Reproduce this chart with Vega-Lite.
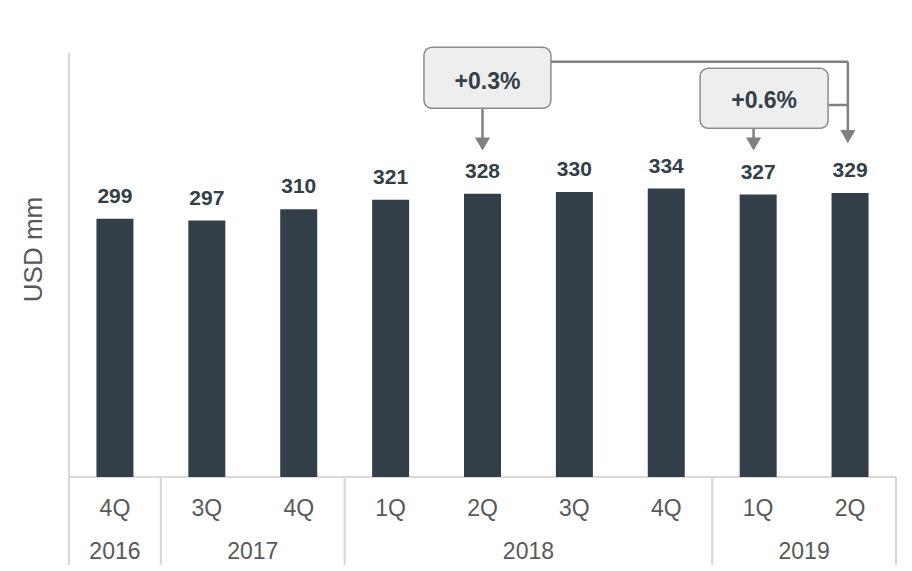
{
  "$schema": "https://vega.github.io/schema/vega-lite/v6.json",
  "autosize": "none",
  "width": 837,
  "height": 424,
  "padding": {"left": 64, "top": 53, "right": 11, "bottom": 94},
  "background": "white",
  "config": {"view": {"stroke": null}, "font": "Liberation Sans"},
  "datasets": {
    "bars": [
      {"x": 0, "q": "4Q", "y": 299},
      {"x": 1, "q": "3Q", "y": 297},
      {"x": 2, "q": "4Q", "y": 310},
      {"x": 3, "q": "1Q", "y": 321},
      {"x": 4, "q": "2Q", "y": 328},
      {"x": 5, "q": "3Q", "y": 330},
      {"x": 6, "q": "4Q", "y": 334},
      {"x": 7, "q": "1Q", "y": 327},
      {"x": 8, "q": "2Q", "y": 329}
    ],
    "years": [
      {"x": 0, "label": "2016"},
      {"x": 1.5, "label": "2017"},
      {"x": 4.5, "label": "2018"},
      {"x": 7.5, "label": "2019"}
    ],
    "grid": [
      {"x": -0.5, "x2": -0.5, "y": 491, "y2": -102},
      {"x": 0.5, "x2": 0.5, "y": 0, "y2": -102},
      {"x": 2.5, "x2": 2.5, "y": 0, "y2": -102},
      {"x": 6.5, "x2": 6.5, "y": 0, "y2": -102},
      {"x": 8.5, "x2": 8.5, "y": 0, "y2": -102},
      {"x": -0.5, "x2": 8.5, "y": 0, "y2": 0}
    ],
    "boxes": [
      {"x": 3.363, "x2": 4.744, "y": 427.0, "y2": 497.6, "label": "+0.3%", "tx": 4.054, "ty": 457.8},
      {"x": 6.368, "x2": 7.761, "y": 403.8, "y2": 473.3, "label": "+0.6%", "tx": 7.065, "ty": 435.7}
    ],
    "connectors": [
      {"x": 4.0, "x2": 4.0, "y": 427.0, "y2": 390},
      {"x": 6.95, "x2": 6.95, "y": 403.8, "y2": 390},
      {"x": 4.744, "x2": 7.976, "y": 481, "y2": 481},
      {"x": 7.976, "x2": 7.976, "y": 481, "y2": 398},
      {"x": 7.761, "x2": 7.976, "y": 430.8, "y2": 430.8}
    ],
    "heads": [
      {"x": 4.0, "y": 385.6},
      {"x": 6.95, "y": 385.6},
      {"x": 7.976, "y": 394.1}
    ]
  },
  "layer": [
    {
      "data": {"name": "grid"},
      "mark": {"type": "rule", "color": "#d9d9d9", "strokeWidth": 2.2},
      "encoding": {
        "x": {"field": "x", "type": "quantitative", "scale": {"domain": [-0.5, 8.5], "nice": false, "zero": false}, "axis": null},
        "x2": {"field": "x2"},
        "y": {"field": "y", "type": "quantitative", "scale": {"domain": [0, 491], "nice": false},
          "axis": {"title": "USD mm", "labels": false, "ticks": false, "domain": false, "grid": false,
            "titleFontSize": 26, "titleColor": "#595959", "titleFontWeight": "normal", "titleFont": "Liberation Sans",
            "titleX": -31, "titleY": 196, "titleBaseline": "middle", "titleAlign": "center", "titleAngle": 270}},
        "y2": {"field": "y2"}
      }
    },
    {
      "data": {"name": "bars"},
      "mark": {"type": "bar", "size": 37, "color": "#333f48"},
      "encoding": {
        "x": {"field": "x", "type": "quantitative"},
        "y": {"field": "y", "type": "quantitative"}
      }
    },
    {
      "data": {"name": "bars"},
      "mark": {"type": "text", "fontSize": 21, "fontWeight": "bold", "color": "#333f48", "baseline": "alphabetic", "dy": -16, "align": "center"},
      "encoding": {
        "x": {"field": "x", "type": "quantitative"},
        "y": {"field": "y", "type": "quantitative"},
        "text": {"field": "y", "type": "quantitative"}
      }
    },
    {
      "data": {"name": "bars"},
      "mark": {"type": "text", "fontSize": 23, "color": "#595959", "baseline": "alphabetic", "align": "center"},
      "encoding": {
        "x": {"field": "x", "type": "quantitative"},
        "y": {"datum": -45, "type": "quantitative"},
        "text": {"field": "q"}
      }
    },
    {
      "data": {"name": "years"},
      "mark": {"type": "text", "fontSize": 23, "color": "#595959", "baseline": "alphabetic", "align": "center"},
      "encoding": {
        "x": {"field": "x", "type": "quantitative"},
        "y": {"datum": -95, "type": "quantitative"},
        "text": {"field": "label"}
      }
    },
    {
      "data": {"name": "connectors"},
      "mark": {"type": "rule", "color": "#808080", "strokeWidth": 2.5},
      "encoding": {
        "x": {"field": "x", "type": "quantitative"},
        "x2": {"field": "x2"},
        "y": {"field": "y", "type": "quantitative"},
        "y2": {"field": "y2"}
      }
    },
    {
      "data": {"name": "heads"},
      "mark": {"type": "point", "shape": "triangle-down", "filled": true, "size": 230, "color": "#808080", "opacity": 1},
      "encoding": {
        "x": {"field": "x", "type": "quantitative"},
        "y": {"field": "y", "type": "quantitative"}
      }
    },
    {
      "data": {"name": "boxes"},
      "mark": {"type": "rect", "fill": "#eeeeee", "stroke": "#8c8c8c", "strokeWidth": 1.5, "cornerRadius": 8},
      "encoding": {
        "x": {"field": "x", "type": "quantitative"},
        "x2": {"field": "x2"},
        "y": {"field": "y", "type": "quantitative"},
        "y2": {"field": "y2"}
      }
    },
    {
      "data": {"name": "boxes"},
      "mark": {"type": "text", "fontSize": 23, "fontWeight": "bold", "color": "#333f48", "baseline": "middle", "align": "center"},
      "encoding": {
        "x": {"field": "tx", "type": "quantitative"},
        "y": {"field": "ty", "type": "quantitative"},
        "text": {"field": "label"}
      }
    }
  ]
}
